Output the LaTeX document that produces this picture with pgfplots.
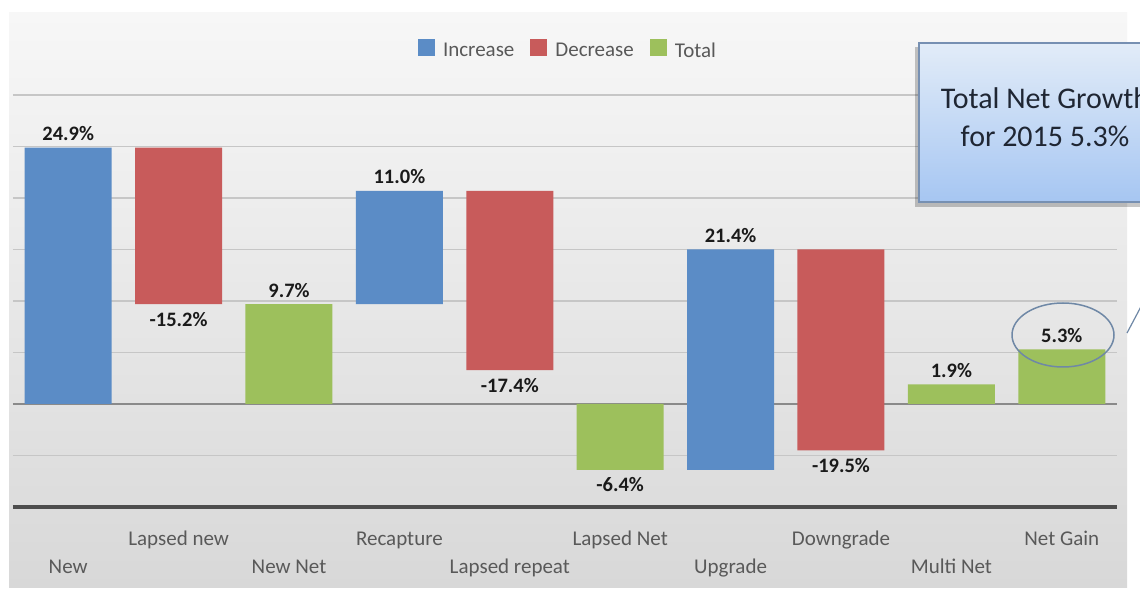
\documentclass[border=0pt]{standalone}
\usepackage{fontspec}
\setmainfont{Carlito}
\usepackage{pgfplots}
\usepackage{pgfplotstable}
\pgfplotsset{compat=1.18}

\definecolor{incB}{HTML}{5B8CC6}
\definecolor{decR}{HTML}{C85B5B}
\definecolor{totG}{HTML}{9DC05C}
\definecolor{lblgray}{HTML}{595959}
\definecolor{gridgray}{HTML}{C6C6C6}
\definecolor{zerogray}{HTML}{8A8A8A}
\definecolor{axisdark}{HTML}{4D4D4D}
\definecolor{bgtop}{HTML}{F7F7F7}
\definecolor{bgbot}{HTML}{D8D8D8}
\definecolor{boxtop}{HTML}{E2ECF8}
\definecolor{boxbot}{HTML}{A6C6F2}
\definecolor{boxline}{HTML}{7790B2}
\definecolor{ellcol}{HTML}{6F88A6}
\definecolor{boxtext}{HTML}{1F2633}
\definecolor{labblack}{HTML}{1A1A1A}

% waterfall: invisible base + visible step
\pgfplotstableread{
x base inc dec tot
0 0 24.9 0 0
1 24.9 0 -15.2 0
2 0 0 0 9.7
3 9.7 11.0 0 0
4 20.7 0 -17.4 0
5 0 0 0 -6.4
6 -6.4 21.4 0 0
7 15.0 0 -19.5 0
8 0 0 0 1.9
9 0 0 0 5.3
}\wf

\pgfplotstableread{
x y lab
0 24.9 24.9
2 9.7 9.7
3 20.7 11.0
6 15.0 21.4
8 1.9 1.9
9 5.3 5.3
}\labup

\pgfplotstableread{
x y lab
1 9.7 -15.2
4 3.3 -17.4
5 -6.4 -6.4
7 -4.5 -19.5
}\labdown

\begin{document}
\begin{tikzpicture}[x=1pt,y=1pt]
\useasboundingbox (0,0) rectangle (1140,591);
\fill[white] (0,0) rectangle (1140,591);
\shade[top color=bgtop, bottom color=bgbot] (9,3) rectangle (1127,578);

\begin{axis}[
  at={(13pt,84pt)}, anchor=south west,
  scale only axis, width=1104pt, height=412pt,
  xmin=-0.5, xmax=9.5, ymin=-10, ymax=30,
  clip=false,
  ybar stacked, stack negative=on previous, bar width=87pt,
  axis line style={draw=none},
  major tick length=0pt,
  ytick={-5,5,10,15,20,25,30}, yticklabels={},
  ymajorgrids, grid style={gridgray, line width=1.6pt},
  extra y ticks={0}, extra y tick labels={},
  extra y tick style={grid=major, major grid style={zerogray, line width=2pt}},
  xtick={0,2,4,6,8},
  xticklabels={New,New Net,Lapsed repeat,Upgrade,Multi Net},
  extra x ticks={1,3,5,7,9},
  extra x tick labels={Lapsed new,Recapture,Lapsed Net,Downgrade,Net Gain},
  xticklabel style={anchor=base, yshift=-67pt, font=\fontsize{21}{24}\selectfont, text=lblgray},
  extra x tick style={grid=none, xticklabel style={yshift=28pt}},
  legend columns=-1,
  legend style={at={(0.5,1)}, anchor=center, yshift=45pt, xshift=3pt,
    draw=none, fill=none, font=\fontsize{21}{24}\selectfont, text=lblgray,
    /tikz/every odd column/.append style={column sep=6pt},
    /tikz/every even column/.append style={column sep=14pt}},
  legend image code/.code={\fill[#1] (0pt,-6pt) rectangle (17pt,11pt);},
]
\addplot[draw=none, fill=none, forget plot] table[x=x,y=base]{\wf};
\addplot[fill=incB, draw=none] table[x=x,y=inc]{\wf};
\addplot[fill=decR, draw=none] table[x=x,y=dec]{\wf};
\addplot[fill=totG, draw=none] table[x=x,y=tot]{\wf};
\legend{Increase,Decrease,Total}
\draw[line width=4pt, axisdark] (rel axis cs:0,0) -- (rel axis cs:1,0);
\end{axis}

\begin{axis}[
  at={(13pt,84pt)}, anchor=south west,
  scale only axis, width=1104pt, height=412pt,
  xmin=-0.5, xmax=9.5, ymin=-10, ymax=30,
  hide axis, clip=false,
]
\addplot[draw=none, mark=none, nodes near coords={\pgfplotspointmeta\%},
  point meta=explicit symbolic,
  every node near coord/.append style={anchor=base, yshift=7pt,
    font=\bfseries\fontsize{20.5}{24}\selectfont, text=labblack}]
  table[x=x,y=y,meta=lab]{\labup};
\addplot[draw=none, mark=none, nodes near coords={\pgfplotspointmeta\%},
  point meta=explicit symbolic,
  every node near coord/.append style={anchor=base, yshift=-22pt,
    font=\bfseries\fontsize{20.5}{24}\selectfont, text=labblack}]
  table[x=x,y=y,meta=lab]{\labdown};
\end{axis}

% annotation ellipse and callout
\draw[ellcol, line width=1.5pt] (1063,256) ellipse [x radius=51, y radius=32];
\draw[ellcol, line width=1.2pt] (1127,258) -- (1145,292);
\fill[black, opacity=0.22] (915,384) rectangle (1168,544);
\shadedraw[top color=boxtop, bottom color=boxbot, draw=boxline, line width=1.2pt] (919,389) rectangle (1172,548);
\node[anchor=base, text=boxtext, font=\fontsize{30}{36}\selectfont, inner sep=0pt] at (1045,482) {Total Net Growth};
\node[anchor=base, text=boxtext, font=\fontsize{30}{36}\selectfont, inner sep=0pt] at (1045,444) {for 2015 5.3\%};
\end{tikzpicture}
\end{document}
